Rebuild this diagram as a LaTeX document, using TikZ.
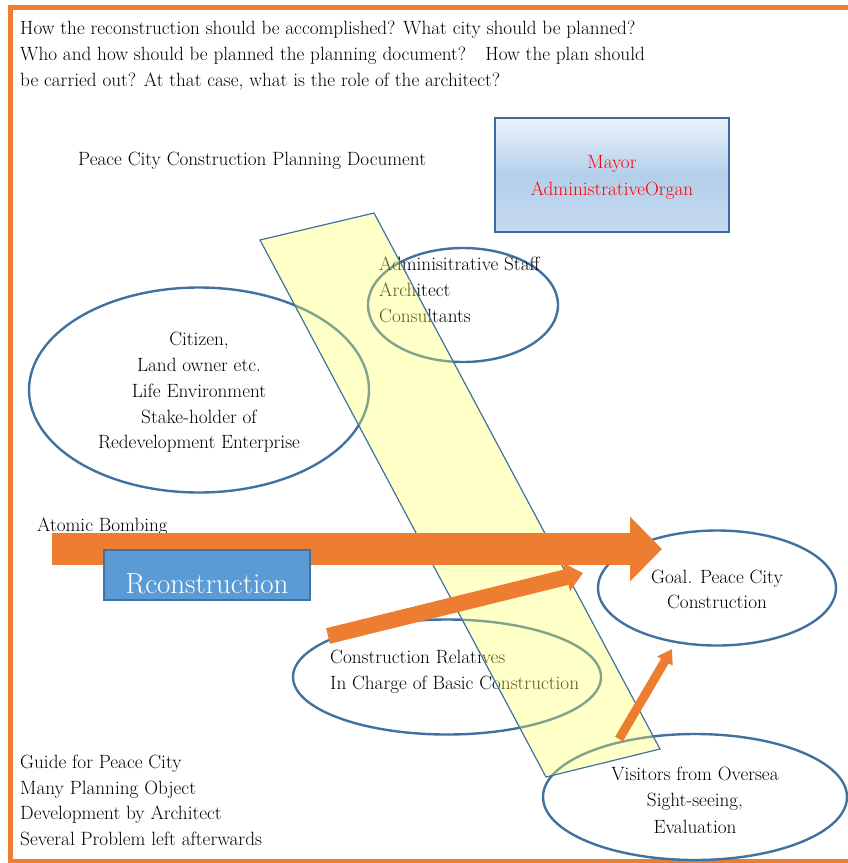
\documentclass[tikz,border=0pt]{standalone}
\usetikzlibrary{arrows.meta,shapes.geometric}
\definecolor{frameorange}{RGB}{237,125,49}
\definecolor{ellblue}{RGB}{65,113,160}
\definecolor{boxblue}{RGB}{91,155,213}
\definecolor{boxedge}{RGB}{65,113,156}
\definecolor{paleyellow}{RGB}{255,255,98}
\definecolor{mayortop}{RGB}{236,243,251}
\definecolor{mayormid}{RGB}{180,207,235}
\definecolor{mayorbot}{RGB}{196,218,240}
\definecolor{mayoredge}{RGB}{60,105,160}
\begin{document}
\begin{tikzpicture}[x=1pt,y=-1pt,
  txt/.style={font=\fontsize{19.2}{26}\selectfont, inner sep=0pt},
  ell/.style={draw=ellblue, line width=2.4pt, shape=ellipse, inner sep=0pt},
]
\useasboundingbox (0,0) rectangle (848,863);
\clip (0,0) rectangle (848,863);
% frame
\draw[frameorange, line width=4.8pt] (10.5,7.5) rectangle (900,861.5);

% top question text
\node[txt, anchor=base west] (q1) at (20,34) {How the reconstruction should be accomplished? What city should be planned?};
\node[txt, anchor=base west] (q2) at (20,60) {Who and how should be planned the planning document?\quad How the plan should};
\node[txt, anchor=base west] (q3) at (20,86) {be carried out? At that case, what is the role of the architect?};

\node[txt, anchor=base west] (pcd) at (78,165) {Peace City Construction Planning Document};

% mayor box
\node[draw=mayoredge, line width=2.4pt, top color=mayortop, bottom color=mayorbot, middle color=mayormid,
      minimum width=234pt, minimum height=114pt, inner sep=0pt] (mayor) at (612,175) {};
\node[txt, anchor=base, red] (mayor1) at (612,168) {Mayor};
\node[txt, anchor=base, red] (mayor2) at (612,195) {AdministrativeOrgan};

% ellipses
\node[ell, minimum width=190pt, minimum height=114pt] (admin) at (463,305) {};
\node[txt, anchor=base west] (ad1) at (379,270) {Adminisitrative Staff};
\node[txt, anchor=base west] (ad2) at (379,296) {Architect};
\node[txt, anchor=base west] (ad3) at (379,322) {Consultants};

\node[ell, minimum width=340pt, minimum height=205pt] (citizen) at (199,390) {};
\node[txt, anchor=base] (c1) at (199,345) {Citizen,};
\node[txt, anchor=base] (c2) at (199,371) {Land owner etc.};
\node[txt, anchor=base] (c3) at (199,397) {Life Environment};
\node[txt, anchor=base] (c4) at (199,423) {Stake-holder of};
\node[txt, anchor=base] (c5) at (199,448) {Redevelopment Enterprise};

\node[ell, minimum width=238pt, minimum height=115pt] (goal) at (717,588) {};
\node[txt, anchor=base] (g1) at (717,583) {Goal. Peace City};
\node[txt, anchor=base] (g2) at (717,608) {Construction};

\node[ell, minimum width=308pt, minimum height=115pt] (crel) at (447,677) {};
\node[txt, anchor=base west] (cr1) at (330,663) {Construction Relatives};
\node[txt, anchor=base west] (cr2) at (330,689) {In Charge of Basic Construction};

\node[ell, minimum width=304pt, minimum height=126pt] (visit) at (695,797) {};
\node[txt, anchor=base] (v1) at (695,780) {Visitors from Oversea};
\node[txt, anchor=base] (v2) at (695,806) {Sight-seeing,};
\node[txt, anchor=base] (v3) at (695,833) {Evaluation};

% planning document band
\coordinate (p1) at (260,240);
\coordinate (p2) at (374,213);
\coordinate (p3) at (660,749);
\coordinate (p4) at (546,777);
\fill[paleyellow, fill opacity=0.35] (p1) -- (p2) -- (p3) -- (p4) -- cycle;
\draw[ellblue, line width=1.2pt, line join=miter] (p1) -- (p2) -- (p3) -- (p4) -- cycle;

% atomic bombing
\node[txt, anchor=base west] (atomic) at (37,531) {Atomic Bombing};

% arrows
\coordinate (a1s) at (52,549);
\coordinate (a1e) at (662,549);
\draw[frameorange, line width=32pt, -{Triangle[length=32pt,width=63pt]}] (a1s) -- (a1e);

\coordinate (a2s) at (328,636);
\coordinate (a2e) at (583,573);
\draw[frameorange, line width=16pt, -{Triangle[length=17pt,width=28pt]}] (a2s) -- (a2e);

\coordinate (a3s) at (619,739);
\coordinate (a3e) at (672,649);
\draw[frameorange, line width=9pt, -{Triangle[length=14pt,width=17pt]}] (a3s) -- (a3e);

% reconstruction box
\node[draw=boxedge, line width=1.5pt, fill=boxblue, minimum width=206pt, minimum height=50pt, inner sep=0pt] (recon) at (207,575) {};
\node[font=\fontsize{29}{34}\selectfont, text=white, anchor=base, inner sep=0pt] (recontxt) at (207,593) {Rconstruction};

% bottom-left notes
\node[txt, anchor=base west] (n1) at (20,768) {Guide for Peace City};
\node[txt, anchor=base west] (n2) at (20,794) {Many Planning Object};
\node[txt, anchor=base west] (n3) at (20,819) {Development by Architect};
\node[txt, anchor=base west] (n4) at (20,845) {Several Problem left afterwards};
\end{tikzpicture}
\end{document}
